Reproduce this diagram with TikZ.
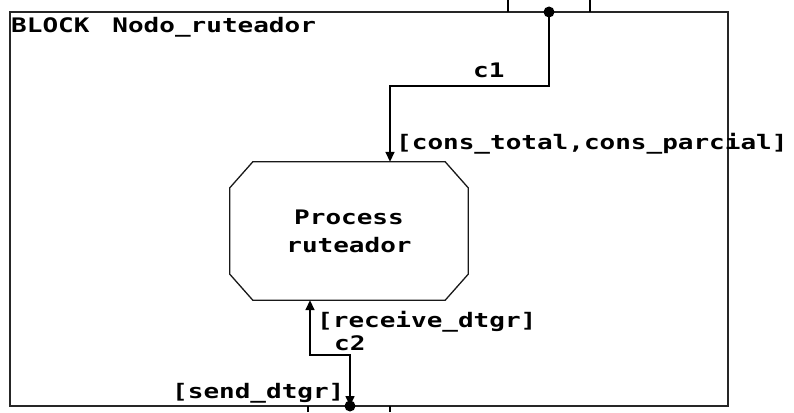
\documentclass[tikz,border=0pt]{standalone}
\usepackage{fontspec}
\setmonofont[FakeStretch=1.3]{DejaVu Sans Mono}
\usetikzlibrary{arrows.meta,calc}
\tikzset{
  lbl/.style={font=\ttfamily\bfseries\fontsize{20}{20}\selectfont, inner sep=0pt, anchor=base west},
  frame/.style={draw=black!85, line width=1.5pt},
  proc/.style={rectangle, minimum width=238pt, minimum height=138pt, inner sep=0pt, align=center,
    font=\ttfamily\bfseries\fontsize{20}{28}\selectfont},
  outline/.style={line width=1.3pt, draw=black!90},
  wire/.style={line width=1.6pt},
  tipshape/.style={-{Triangle[length=10pt,width=9pt]}},
  port/.style={circle, fill, inner sep=0pt, minimum size=11pt}
}
\begin{document}
\begin{tikzpicture}[x=1pt,y=-1pt]
  \useasboundingbox (0,0) rectangle (794,412);
  % block frame
  \draw[frame] (10,12) rectangle (728,406);
  \node[lbl] (title) at (11,33) {BLOCK\hspace{23pt}Nodo\_ruteador};
  % process symbol: rectangle with cut corners
  \node[proc] (proc) at (349,231) {Process\\ruteador};
  \draw[outline]
    ($(proc.north west)+(23,0)$) -- ($(proc.north east)+(-23,0)$)
    -- ($(proc.north east)+(0,26)$) -- ($(proc.south east)+(0,-26)$)
    -- ($(proc.south east)+(-23,0)$) -- ($(proc.south west)+(23,0)$)
    -- ($(proc.south west)+(0,-26)$) -- ($(proc.north west)+(0,26)$) -- cycle;
  % upper gate
  \coordinate (tg1) at (508,0);
  \coordinate (tg2) at (590,0);
  \draw[wire] (tg1) -- ++(0,12);
  \draw[wire] (tg2) -- ++(0,12);
  \node[port] (tp) at (549,12) {};
  % lower gate
  \coordinate (bg1) at (308,412);
  \coordinate (bg2) at (390,412);
  \draw[wire] (bg1) -- ++(0,-6);
  \draw[wire] (bg2) -- ++(0,-6);
  \node[port] (bp) at (350,406) {};
  % channel c1
  \coordinate (c1bend) at (390,86);
  \draw[wire,tipshape] (tp.center) |- (c1bend) -- (c1bend |- proc.north);
  \node[lbl] (c1) at (473,77) {c1};
  \node[lbl] (sig1) at (396,149) {[cons\_total,cons\_parcial]};
  % channel c2
  \coordinate (c2bend) at (310,355);
  \draw[wire,{Triangle[length=10pt,width=9pt]}-{Triangle[length=10pt,width=9pt]}]
    (c2bend |- proc.south) -- (c2bend) -| (bp.center);
  \node[lbl] (sig2) at (317,327) {[receive\_dtgr]};
  \node[lbl] (c2) at (334,350) {c2};
  \node[lbl] (sig3) at (172,398) {[send\_dtgr]};
\end{tikzpicture}
\end{document}
